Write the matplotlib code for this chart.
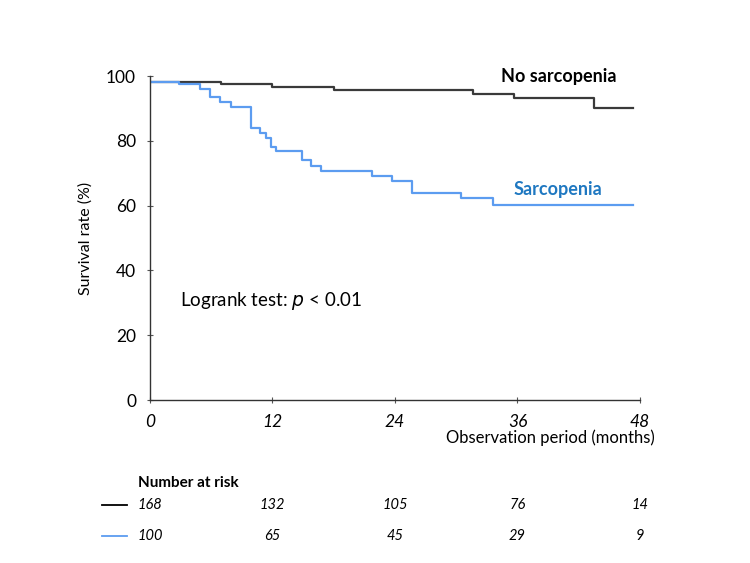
import numpy as np
import matplotlib
matplotlib.use('Agg')
import matplotlib.pyplot as plt
import matplotlib.transforms as mtransforms

plt.rcParams['font.family'] = ['Lato', 'DejaVu Sans']

# Curvas Kaplan-Meier (meses, % supervivencia)
no_sarc_t = [0, 7, 12, 18, 31.6, 35.7, 43.5, 47.3]
no_sarc_s = [98.3, 97.6, 96.7, 95.8, 94.6, 93.1, 90.2, 90.2]

sarc_t = [0, 2.8, 4.9, 5.9, 6.9, 7.9, 9.9, 10.8, 11.4, 11.85, 12.3, 14.9,
          15.8, 16.8, 21.7, 23.7, 25.7, 30.5, 33.6, 47.3]
sarc_s = [98.3, 97.4, 96.0, 93.4, 92.0, 90.5, 83.8, 82.4, 80.9, 78.1, 76.9,
          74.0, 72.1, 70.7, 69.0, 67.5, 63.9, 62.2, 60.1, 60.1]

# Numero en riesgo
risk_times = [0, 12, 24, 36, 48]
risk_no_sarc = [168, 132, 105, 76, 14]
risk_sarc = [100, 65, 45, 29, 9]

col_black = '#3a3a3a'
col_blue = '#5c9cf0'
col_blue_txt = '#1f78c1'

fig = plt.figure(figsize=(7.5, 5.63), dpi=100)
ax = fig.add_axes([0.2, 0.2895, 0.6533, 0.5755])

ax.step(no_sarc_t, no_sarc_s, where='post', color=col_black, lw=1.6)
ax.step(sarc_t, sarc_s, where='post', color=col_blue, lw=1.6)

ax.set_xlim(0, 48)
ax.set_ylim(0, 100)
ax.set_xticks(risk_times)
ax.set_xticklabels([str(t) for t in risk_times], fontstyle='italic')
ax.set_yticks(range(0, 101, 20))
ax.tick_params(direction='inout', length=4, width=0.8, labelsize=12.5,
               color='#555555', pad=8)
for s in ['top', 'right']:
    ax.spines[s].set_visible(False)
for s in ['left', 'bottom']:
    ax.spines[s].set_color('#333333')
    ax.spines[s].set_linewidth(1.0)

ax.set_ylabel('Survival rate (%)', fontsize=11.5, labelpad=10)
fig.text(655 / 750, 1 - 438 / 563, 'Observation period (months)',
         ha='right', va='center', fontsize=12)

ax.text(40, 100, 'No sarcopenia', fontsize=13, fontweight='bold',
        color='black', ha='center', va='center')
ax.text(40, 65, 'Sarcopenia', fontsize=13, fontweight='bold',
        color=col_blue_txt, ha='center', va='center')
ax.text(2.9, 30.6, 'Logrank test: $\\it{p}$ < 0.01', fontsize=13.5,
        ha='left', va='center')

# Tabla de numero en riesgo
fig.text(138 / 750, 1 - 483 / 563, 'Number at risk', fontsize=11,
         fontweight='bold', ha='left', va='center')
trans = mtransforms.blended_transform_factory(ax.transData, fig.transFigure)
y1 = 1 - 505 / 563
y2 = 1 - 536 / 563
fig.add_artist(plt.Line2D([102 / 750, 127 / 750], [y1, y1], color='black', lw=1.3))
fig.add_artist(plt.Line2D([102 / 750, 127 / 750], [y2, y2], color=col_blue, lw=1.3))
for t, a, b in zip(risk_times, risk_no_sarc, risk_sarc):
    ax.text(t, y1, str(a), transform=trans, ha='center', va='center',
            fontsize=10.5, fontstyle='italic', clip_on=False)
    ax.text(t, y2, str(b), transform=trans, ha='center', va='center',
            fontsize=10.5, fontstyle='italic', clip_on=False)

fig.savefig('out.png', dpi=100)
